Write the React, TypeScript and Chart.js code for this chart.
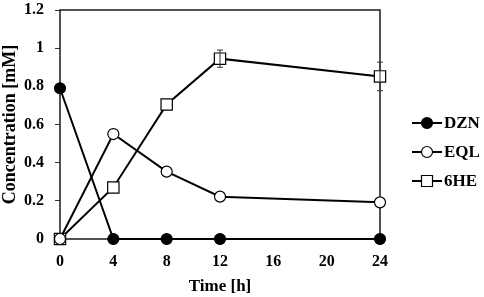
import React, { useEffect, useRef } from "react";
import { Chart, registerables } from "chart.js";

Chart.register(...registerables);

const times = [0, 4, 8, 12, 24];
const dznValues = [0.79, 0, 0, 0, 0];
const eqlValues = [0, 0.55, 0.353, 0.222, 0.192];
const heValues = [0, 0.27, 0.705, 0.945, 0.852];
const heErrors = [0, 0, 0, 0.045, 0.075];
const seriesLabels = ["DZN", "EQL", "6HE"];
const xTitle = "Time [h]";
const yTitle = "Concentration [mM]";

const FONT = "'Liberation Serif', 'Times New Roman', serif";

export default function App() {
  const ref = useRef<HTMLCanvasElement | null>(null);

  useEffect(() => {
    document.body.style.margin = "0";
    const canvas = ref.current;
    if (!canvas) return;

    const toPts = (vals: number[]) => times.map((t, i) => ({ x: t, y: vals[i] }));

    const framePlugin = {
      id: "frame",
      beforeDatasetsDraw(chart: any) {
        const { ctx, chartArea: a } = chart;
        ctx.save();
        ctx.strokeStyle = "#1a1a1a";
        ctx.lineWidth = 1.5;
        ctx.strokeRect(a.left, a.top, a.right - a.left, a.bottom - a.top);
        ctx.restore();
      },
    };

    const errorPlugin = {
      id: "errbars",
      afterDatasetsDraw(chart: any) {
        const { ctx } = chart;
        const yS = chart.scales.y;
        const meta = chart.getDatasetMeta(2);
        ctx.save();
        ctx.strokeStyle = "#333";
        ctx.lineWidth = 1;
        meta.data.forEach((pt: any, i: number) => {
          const e = heErrors[i];
          if (!e) return;
          const x = pt.x;
          const y1 = yS.getPixelForValue(heValues[i] + e);
          const y2 = yS.getPixelForValue(heValues[i] - e);
          ctx.beginPath();
          ctx.moveTo(x, y1);
          ctx.lineTo(x, y2);
          ctx.moveTo(x - 3, y1);
          ctx.lineTo(x + 3, y1);
          ctx.moveTo(x - 3, y2);
          ctx.lineTo(x + 3, y2);
          ctx.stroke();
        });
        ctx.restore();
      },
    };

    const legendPlugin = {
      id: "sideLegend",
      afterDraw(chart: any) {
        const { ctx, chartArea: a } = chart;
        ctx.save();
        chart.data.datasets.forEach((ds: any, i: number) => {
          const y = a.top + 113 + i * 29;
          const x0 = a.right + 32;
          const x1 = x0 + 30;
          const cx = (x0 + x1) / 2;
          ctx.strokeStyle = "#000";
          ctx.lineWidth = 2;
          ctx.beginPath();
          ctx.moveTo(x0, y);
          ctx.lineTo(x1, y);
          ctx.stroke();
          ctx.lineWidth = 1.2;
          ctx.fillStyle = ds.pointBackgroundColor;
          ctx.beginPath();
          if (ds.pointStyle === "rect") {
            ctx.rect(cx - 5.5, y - 5.5, 11, 11);
          } else {
            ctx.arc(cx, y, 5.5, 0, Math.PI * 2);
          }
          ctx.fill();
          ctx.stroke();
          ctx.fillStyle = "#000";
          ctx.font = `bold 17px ${FONT}`;
          ctx.textBaseline = "middle";
          ctx.textAlign = "left";
          ctx.fillText(ds.label, x1 + 2, y + 1);
        });
        ctx.restore();
      },
    };

    const common = {
      borderColor: "#000",
      borderWidth: 2,
      pointBorderColor: "#000",
      pointBorderWidth: 1.2,
      tension: 0,
      clip: false as any,
    };

    const chart = new Chart(canvas, {
      type: "line",
      data: {
        datasets: [
          {
            ...common,
            label: seriesLabels[0],
            data: toPts(dznValues),
            pointStyle: "circle",
            pointRadius: 5.5,
            pointBackgroundColor: "#000",
          },
          {
            ...common,
            label: seriesLabels[1],
            data: toPts(eqlValues),
            pointStyle: "circle",
            pointRadius: 5.5,
            pointBackgroundColor: "#fff",
          },
          {
            ...common,
            label: seriesLabels[2],
            data: toPts(heValues),
            pointStyle: "rect",
            pointRadius: 8,
            pointBackgroundColor: "#fff",
          },
        ],
      },
      options: {
        animation: false,
        responsive: false,
        maintainAspectRatio: false,
        layout: { padding: { left: 0, right: 104, top: 10, bottom: 0 } },
        plugins: {
          legend: { display: false },
          tooltip: { enabled: false },
        },
        scales: {
          x: {
            type: "linear",
            min: 0,
            max: 24,
            afterFit: (s: any) => {
              s.height = 58;
              s.paddingLeft = 0;
              s.paddingRight = 0;
            },
            ticks: {
              stepSize: 4,
              color: "#000",
              font: { family: FONT, size: 16, weight: "bold" },
              padding: 5,
            },
            grid: { display: false },
            border: { display: false },
            title: {
              display: true,
              text: xTitle,
              color: "#000",
              font: { family: FONT, size: 17, weight: "bold" },
              padding: { top: 4, bottom: 0 },
            },
          },
          y: {
            min: 0,
            max: 1.2,
            afterFit: (s: any) => {
              s.width = 60;
              s.paddingTop = 0;
              s.paddingBottom = 0;
            },
            ticks: {
              stepSize: 0.2,
              color: "#000",
              font: { family: FONT, size: 16, weight: "bold" },
              padding: 11,
              callback: (v: any) => String(Math.round(Number(v) * 10) / 10),
            },
            grid: {
              display: true,
              drawOnChartArea: false,
              drawTicks: true,
              tickLength: 5,
              color: "#333",
            },
            border: { display: false },
            title: {
              display: true,
              text: yTitle,
              color: "#000",
              font: { family: FONT, size: 18, weight: "bold" },
              padding: { top: 0, bottom: 0 },
            },
          },
        },
      },
      plugins: [framePlugin, errorPlugin, legendPlugin],
    });

    return () => chart.destroy();
  }, []);

  return <canvas ref={ref} width={484} height={297} style={{ display: "block" }} />;
}
